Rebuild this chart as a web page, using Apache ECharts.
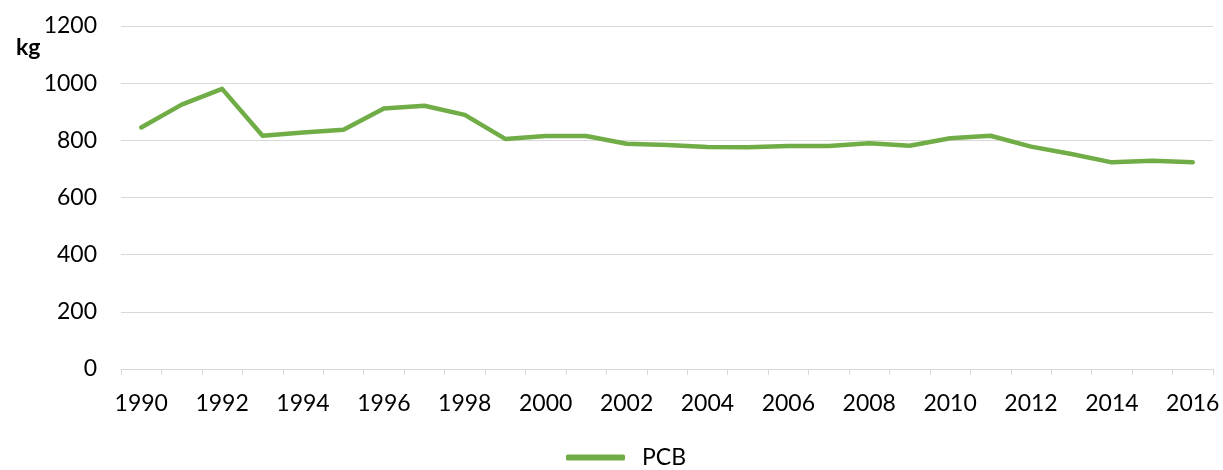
<!DOCTYPE html>
<html>
<head>
<meta charset="utf-8">
<script src="https://cdn.jsdelivr.net/npm/echarts@6/dist/echarts.min.js"></script>
<style>
  html, body { margin: 0; padding: 0; background: #fff; }
  #chart { width: 1223px; height: 470px; }
</style>
</head>
<body>
<div id="chart"></div>
<script type="text/javascript">
	// data
	var years = ['1990','1991','1992','1993','1994','1995','1996','1997','1998','1999',
		'2000','2001','2002','2003','2004','2005','2006','2007','2008','2009',
		'2010','2011','2012','2013','2014','2015','2016'];
	var pcb = [845, 925, 980, 816, 827, 837, 911, 921, 889, 805,
		815, 815, 788, 784, 777, 776, 780, 780, 790, 781,
		807, 816, 778, 752, 723, 729, 723];
	var yTicks = { min: 0, max: 1200, interval: 200 };

	var chart = echarts.init(document.getElementById('chart'));
	var option = {
		animation: false,
		textStyle: { fontFamily: 'Lato' },
		title: {
			text: 'kg',
			left: 11,
			top: 31,
			textStyle: { fontSize: 23, fontWeight: 'bold', color: '#000', fontFamily: 'Lato' }
		},
		legend: {
			top: 446,
			left: 566,
			padding: 0,
			itemWidth: 59,
			itemHeight: 6,
			icon: 'roundRect',
			textStyle: { fontSize: 23, color: '#000', padding: [0, 0, 0, 12] },
			data: ['PCB']
		},
		grid: { left: 121, right: 10, top: 26, bottom: 101, containLabel: false },
		xAxis: {
			type: 'category',
			data: years,
			boundaryGap: true,
			axisLine: { lineStyle: { color: '#d9d9d9', width: 1 } },
			axisTick: { show: true, length: 6, interval: 0, lineStyle: { color: '#d9d9d9' } },
			axisLabel: { interval: 1, fontSize: 23, color: '#000', margin: 23 }
		},
		yAxis: {
			type: 'value',
			min: yTicks.min,
			max: yTicks.max,
			interval: yTicks.interval,
			axisLine: { show: false },
			axisTick: { show: false },
			axisLabel: {
				fontSize: 23, color: '#000', margin: 24,
				formatter: function (v) { return String(v); }
			},
			splitLine: { lineStyle: { color: '#d9d9d9', width: 1 } }
		},
		series: [{
			name: 'PCB',
			type: 'line',
			data: pcb,
			showSymbol: false,
			symbol: 'none',
			lineStyle: { color: '#70ad47', width: 4.5, cap: 'round', join: 'round' },
			itemStyle: { color: '#70ad47' }
		}]
	};
	chart.setOption(option);
</script>
</body>
</html>
